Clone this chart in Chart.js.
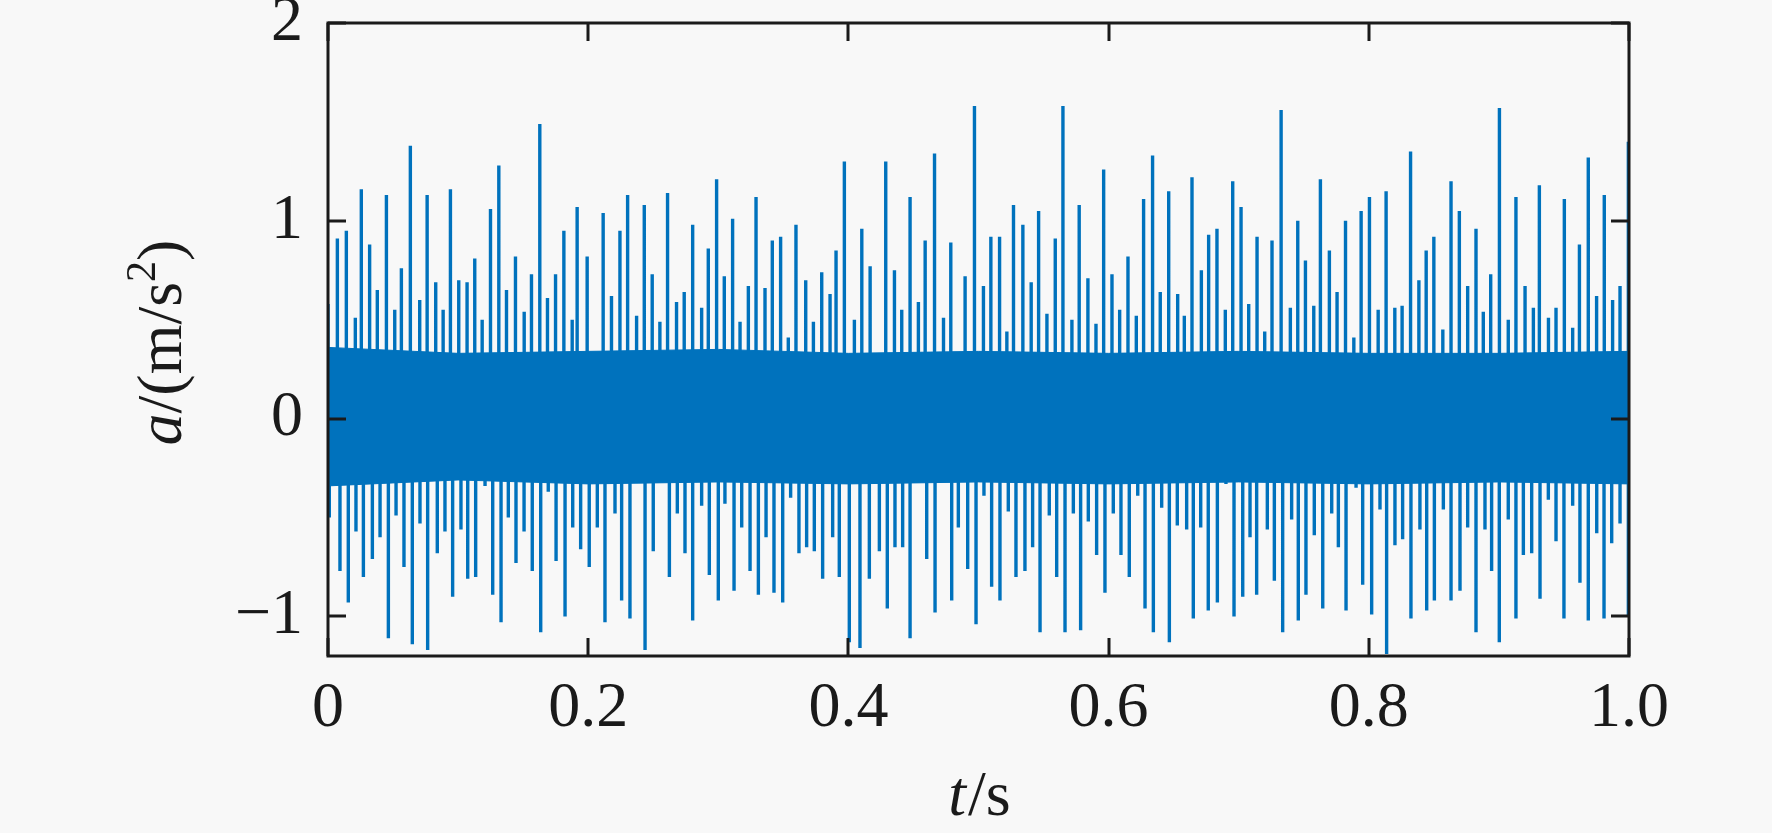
<!DOCTYPE html>
<html>
<head>
<meta charset="utf-8">
<script src="https://cdn.jsdelivr.net/npm/chart.js@4.4.1/dist/chart.umd.min.js"></script>
<style>
  html, body { margin: 0; padding: 0; background: #f8f8f8; }
  canvas { display: block; }
</style>
</head>
<body>
<canvas id="c" width="1772" height="833"></canvas>
<script>
// ---- Data ----
// Upward spike tips: time (s) and acceleration (m/s^2)
const upTimes = [0.0000,0.0072,0.0141,0.0210,0.0256,0.0320,0.0379,0.0449,0.0513,0.0564,0.0633,0.0705,0.0762,0.0828,0.0885,0.0941,0.1005,0.1069,0.1128,0.1185,0.1249,0.1313,0.1372,0.1441,0.1508,0.1564,0.1628,0.1687,0.1749,0.1813,0.1877,0.1915,
0.1992,0.2115,0.2179,0.2244,0.2303,0.2372,0.2431,0.2492,0.2551,0.2610,0.2679,0.2738,0.2803,0.2872,0.2923,0.2987,0.3046,0.3110,0.3167,0.3231,0.3290,0.3359,0.3415,0.3479,0.3538,0.3597,0.3672,0.3731,0.3795,0.3859,0.3905,0.3969,0.4046,0.4103,
0.4167,0.4287,0.4354,0.4410,0.4474,0.4538,0.4590,0.4662,0.4731,0.4787,0.4897,0.4969,0.5038,0.5095,0.5162,0.5218,0.5269,0.5341,0.5405,0.5462,0.5526,0.5590,0.5649,0.5718,0.5774,0.5841,0.5903,0.5962,0.6026,0.6085,0.6149,0.6213,0.6269,0.6338,
0.6397,0.6462,0.6531,0.6582,0.6641,0.6713,0.6769,0.6833,0.6897,0.6954,0.7018,0.7077,0.7141,0.7200,0.7256,0.7326,0.7397,0.7454,0.7513,0.7577,0.7628,0.7697,0.7756,0.7821,0.7885,0.7941,0.8005,0.8072,0.8133,0.8200,0.8256,0.8321,0.8385,0.8441,0.8500,0.8569,
0.8632,0.8696,0.8760,0.8824,0.8880,0.8937,0.9004,0.9072,0.9131,0.9201,0.9265,0.9311,0.9381,0.9439,0.9503,0.9567,0.9619,0.9687,0.9751,0.9810,0.9874,0.9931,0.9995];
const upValues = [0.58,0.91,0.95,0.51,1.16,0.88,0.65,1.13,0.55,0.76,1.38,0.60,1.13,0.69,0.55,1.16,0.70,0.69,0.81,0.50,1.06,1.28,0.65,0.82,0.54,0.73,1.49,0.61,0.73,0.95,0.50,1.07,
0.82,1.04,0.62,0.95,1.13,0.52,1.08,0.73,0.49,1.14,0.59,0.64,0.98,0.56,0.86,1.21,0.72,1.01,0.49,0.67,1.12,0.66,0.90,0.92,0.41,0.98,0.70,0.49,0.74,0.63,0.85,1.30,0.50,0.96,
0.77,1.30,0.75,0.55,1.12,0.59,0.90,1.34,0.51,0.89,0.72,1.58,0.67,0.92,0.92,0.44,1.08,0.98,0.69,1.05,0.53,0.91,1.58,0.50,1.08,0.71,0.48,1.26,0.73,0.55,0.82,0.52,1.11,1.33,
0.64,1.15,0.63,0.52,1.22,0.75,0.93,0.96,0.55,1.20,1.07,0.58,0.92,0.44,0.90,1.56,0.56,1.00,0.80,0.57,1.21,0.85,0.64,1.00,0.41,1.05,1.12,0.55,1.15,0.56,0.57,1.35,0.70,0.85,0.92,0.45,
1.20,1.05,0.67,0.96,0.54,0.73,1.57,0.50,1.12,0.67,0.56,1.18,0.51,0.56,1.11,0.46,0.88,1.32,0.62,1.13,0.60,0.67,1.40];

// Downward spike tips
const downTimes = [0.0010,0.0092,0.0156,0.0215,0.0272,0.0341,0.0400,0.0464,0.0523,0.0584,0.0648,0.0707,0.0766,0.0840,0.0899,0.0958,0.1022,0.1074,0.1135,0.1207,0.1266,0.1330,0.1386,0.1445,0.1507,0.1570,0.1635,0.1693,0.1753,0.1822,0.1881,0.1942,0.2008,0.2070,0.2129,0.2206,0.2257,0.2321,0.2373,0.2437,
0.2500,0.2624,0.2685,0.2744,0.2803,0.2872,0.2931,0.3000,0.3051,0.3121,0.3180,0.3244,0.3308,0.3367,0.3428,0.3495,0.3556,0.3620,0.3679,0.3738,0.3802,0.3879,0.3930,0.4007,0.4089,0.4161,0.4238,0.4299,0.4358,0.4417,0.4474,0.4602,0.4666,0.4794,0.4845,0.4917,
0.4981,0.5042,0.5101,0.5165,0.5229,0.5288,0.5357,0.5416,0.5473,0.5544,0.5601,0.5665,0.5729,0.5785,0.5844,0.5908,0.5972,0.6036,0.6095,0.6159,0.6224,0.6280,0.6344,0.6408,0.6467,0.6528,0.6600,0.6651,0.6708,0.6766,0.6836,0.6902,0.6964,0.7031,0.7087,0.7138,0.7220,0.7274,0.7338,
0.7407,0.7458,0.7517,0.7581,0.7646,0.7715,0.7766,0.7825,0.7902,0.7953,0.8022,0.8086,0.8137,0.8201,0.8260,0.8324,0.8393,0.8445,0.8504,0.8573,0.8632,0.8701,0.8760,0.8824,0.8893,0.8944,0.9003,0.9072,0.9131,0.9188,0.9252,0.9316,0.9380,0.9439,0.9500,0.9567,0.9623,0.9687,0.9752,0.9808,0.9867,0.9931,0.9995];
const downValues = [-0.50,-0.77,-0.93,-0.57,-0.80,-0.71,-0.60,-1.11,-0.49,-0.75,-1.14,-0.53,-1.17,-0.68,-0.57,-0.90,-0.56,-0.81,-0.80,-0.34,-0.89,-1.03,-0.50,-0.73,-0.57,-0.77,-1.08,-0.37,-0.72,-1.00,-0.55,-0.66,-0.75,-0.55,-1.03,-0.48,-0.92,-1.01,-0.32,-1.17,
-0.67,-0.80,-0.48,-0.68,-1.02,-0.44,-0.79,-0.92,-0.43,-0.87,-0.55,-0.77,-0.89,-0.60,-0.88,-0.93,-0.40,-0.68,-0.65,-0.67,-0.81,-0.60,-0.80,-1.13,-1.16,-0.81,-0.67,-0.96,-0.65,-0.65,-1.11,-0.71,-0.98,-0.92,-0.55,-0.76,
-1.04,-0.39,-0.85,-0.92,-0.47,-0.80,-0.77,-0.65,-1.08,-0.49,-0.80,-1.08,-0.48,-1.07,-0.52,-0.69,-0.88,-0.48,-0.69,-0.80,-0.39,-0.96,-1.08,-0.45,-1.13,-0.54,-0.56,-1.01,-0.55,-0.97,-0.93,-0.33,-1.00,-0.90,-0.60,-0.89,-0.56,-0.82,-1.08,
-0.51,-1.02,-0.89,-0.59,-0.96,-0.48,-0.65,-0.97,-0.35,-0.84,-0.99,-0.46,-1.19,-0.64,-0.61,-1.01,-0.56,-0.97,-0.92,-0.46,-0.92,-0.87,-0.55,-1.08,-0.56,-0.77,-1.13,-0.51,-1.01,-0.69,-0.68,-0.91,-0.41,-0.62,-1.01,-0.44,-0.83,-1.02,-0.58,-1.01,-0.63,-0.53,-1.00];

// Envelope of the dense core band
const bandTimes = [0.0, 0.1, 0.2, 0.3, 0.4, 0.5, 0.6, 0.7, 0.8, 0.9, 1.0];
const bandUpper = [0.36, 0.33, 0.34, 0.35, 0.33, 0.34, 0.33, 0.34, 0.33, 0.33, 0.34];
const bandLower = [-0.34, -0.31, -0.33, -0.32, -0.33, -0.32, -0.33, -0.32, -0.33, -0.32, -0.33];

// Axis ticks
const xTickValues = [0, 0.2, 0.4, 0.6, 0.8, 1.0];
const xTickLabels = ['0', '0.2', '0.4', '0.6', '0.8', '1.0'];
const yTickValues = [-1, 0, 1, 2];
const yTickLabels = ['\u22121', '0', '1', '2'];

// ---- Build chart ----
const LINE = '#0072BD';
const FONT = '"Liberation Serif", "Times New Roman", serif';
const INK = '#1a1a1a';

// each spike is drawn as a stem from the axis to its tip, broken by a gap
function stems(times, values) {
  const out = [];
  times.forEach((t, i) => {
    out.push({ x: t, y: 0 });
    out.push({ x: t, y: values[i] });
    out.push({ x: t, y: null });
  });
  return out;
}
const upStems = stems(upTimes, upValues);
const downStems = stems(downTimes, downValues);

const upperPts = bandTimes.map((t, i) => ({ x: t, y: bandUpper[i] }));
const lowerPts = bandTimes.map((t, i) => ({ x: t, y: bandLower[i] }));

const framePlugin = {
  id: 'frame',
  afterDatasetsDraw(chart) {
    const ctx = chart.ctx;
    const a = chart.chartArea;
    const xs = chart.scales.x, ys = chart.scales.y;
    ctx.save();
    ctx.strokeStyle = INK;
    ctx.lineWidth = 3;
    ctx.lineCap = 'butt';
    const TL = 18;
    ctx.beginPath();
    xTickValues.forEach(v => {
      const px = Math.round(xs.getPixelForValue(v));
      ctx.moveTo(px, a.bottom); ctx.lineTo(px, a.bottom - TL);
      ctx.moveTo(px, a.top); ctx.lineTo(px, a.top + TL);
    });
    yTickValues.forEach(v => {
      const py = Math.round(ys.getPixelForValue(v));
      ctx.moveTo(a.left, py); ctx.lineTo(a.left + TL, py);
      ctx.moveTo(a.right, py); ctx.lineTo(a.right - TL, py);
    });
    ctx.stroke();
    ctx.strokeRect(a.left, a.top, a.right - a.left, a.bottom - a.top);
    ctx.restore();
  },
  afterDraw(chart) {
    const ctx = chart.ctx;
    const a = chart.chartArea;
    ctx.save();
    ctx.fillStyle = INK;
    ctx.textBaseline = 'alphabetic';
    // x title: t/s
    const fi = 'italic 64px ' + FONT, fn = '64px ' + FONT;
    ctx.font = fi; const w1 = ctx.measureText('t').width;
    ctx.font = fn; const w2 = ctx.measureText('/s').width;
    let x0 = (a.left + a.right) / 2 - (w1 + w2) / 2;
    const by = 815;
    ctx.font = fi; ctx.fillText('t', x0, by);
    ctx.font = fn; ctx.fillText('/s', x0 + w1 + 2, by);
    // y title: a/(m/s^2)
    ctx.translate(181, (a.top + a.bottom) / 2 + 3);
    ctx.rotate(-Math.PI / 2);
    const fs = '42px ' + FONT;
    ctx.font = fi; const p1 = ctx.measureText('a').width;
    ctx.font = fn; const p2 = ctx.measureText('/(m/s').width;
    ctx.font = fs; const p3 = ctx.measureText('2').width;
    ctx.font = fn; const p4 = ctx.measureText(')').width;
    const tot = p1 + p2 + p3 + p4;
    let cx = -tot / 2;
    ctx.font = fi; ctx.fillText('a', cx, 0); cx += p1;
    ctx.font = fn; ctx.fillText('/(m/s', cx, 0); cx += p2;
    ctx.font = fs; ctx.fillText('2', cx, -26); cx += p3;
    ctx.font = fn; ctx.fillText(')', cx, 0);
    ctx.restore();
  }
};

new Chart(document.getElementById('c'), {
  type: 'line',
  data: {
    datasets: [
      { data: upperPts, borderColor: LINE, backgroundColor: LINE, borderWidth: 1, fill: '+1', pointRadius: 0, tension: 0, clip: 0 },
      { data: lowerPts, borderColor: LINE, backgroundColor: LINE, borderWidth: 1, fill: false, pointRadius: 0, tension: 0, clip: 0 },
      { data: upStems, borderColor: LINE, borderWidth: 3.4, fill: false, pointRadius: 0, tension: 0, clip: 0, spanGaps: false, borderCapStyle: 'butt' },
      { data: downStems, borderColor: LINE, borderWidth: 3.4, fill: false, pointRadius: 0, tension: 0, clip: 0, spanGaps: false, borderCapStyle: 'butt' }
    ]
  },
  options: {
    responsive: false,
    animation: false,
    devicePixelRatio: 1,
    layout: { padding: { left: 0, right: 143, top: 23, bottom: 0 } },
    plugins: { legend: { display: false }, tooltip: { enabled: false } },
    scales: {
      x: {
        type: 'linear', min: 0, max: 1,
        grid: { display: false, drawTicks: false },
        border: { display: false },
        afterBuildTicks: s => { s.ticks = xTickValues.map(v => ({ value: v })); },
        afterFit: s => { s.height = 177; s.paddingLeft = 0; s.paddingRight = 0; },
        ticks: {
          padding: 15, color: INK, maxRotation: 0, autoSkip: false,
          font: { family: FONT, size: 64 },
          callback: (v) => { const i = xTickValues.findIndex(t => Math.abs(t - v) < 1e-9); return i >= 0 ? xTickLabels[i] : ''; }
        }
      },
      y: {
        type: 'linear', min: -1.2, max: 2,
        grid: { display: false, drawTicks: false },
        border: { display: false },
        afterBuildTicks: s => { s.ticks = yTickValues.map(v => ({ value: v })); },
        afterFit: s => { s.width = 328; s.paddingTop = 0; s.paddingBottom = 0; },
        ticks: {
          padding: 25, color: INK, autoSkip: false,
          font: { family: FONT, size: 64 },
          callback: (v) => { const i = yTickValues.indexOf(v); return i >= 0 ? yTickLabels[i] : ''; }
        }
      }
    }
  },
  plugins: [framePlugin]
});
</script>
</body>
</html>
